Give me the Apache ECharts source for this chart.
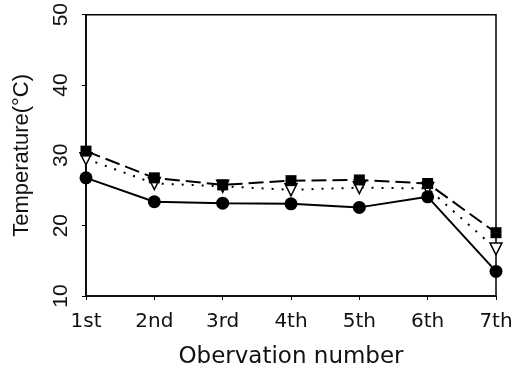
<!DOCTYPE html>
<html><head><meta charset="utf-8">
<script src="https://cdn.jsdelivr.net/npm/echarts@6/dist/echarts.min.js"></script>
<style>html,body{margin:0;padding:0;background:#fff}#c{width:529px;height:374px}</style>
</head><body><div id="c"></div>
<script>
var categories = ['1st','2nd','3rd','4th','5th','6th','7th'];
var circleSeries = [26.8, 23.4, 23.2, 23.1, 22.6, 24.1, 13.5];
var squareSeries = [30.6, 26.8, 25.8, 26.4, 26.5, 26.0, 19.0];
var triangleSeries = [29.5, 26.0, 25.6, 25.1, 25.4, 25.3, 16.7];
var yTicks = [10, 20, 30, 40, 50];

var chart = echarts.init(document.getElementById('c'));
var wide = 'DejaVu Sans, sans-serif';
var narrow = 'Liberation Sans, Arial, sans-serif';
chart.setOption({
  animation: false,
  grid: {left: 86, right: 33, top: 9, bottom: 76, show: true, borderColor: '#000', borderWidth: 1.5, backgroundColor: 'transparent'},
  xAxis: {
    type: 'category', data: categories, boundaryGap: false,
    name: 'Obervation number', nameLocation: 'middle', nameGap: 50,
    nameTextStyle: {fontFamily: wide, fontSize: 23, color: '#111'},
    axisLine: {lineStyle: {color: '#000', width: 1.5}},
    axisTick: {show: true, inside: false, length: 4, lineStyle: {color: '#000'}},
    axisLabel: {fontFamily: wide, fontSize: 20, color: '#111', margin: 16},
    splitLine: {show: false}
  },
  yAxis: {
    type: 'value', min: 10, max: 50, interval: 10,
    name: 'Temperature(°C)', nameLocation: 'middle', nameGap: 53, nameRotate: 90,
    nameTextStyle: {fontFamily: narrow, fontSize: 22, color: '#111'},
    axisLine: {show: true, lineStyle: {color: '#000', width: 1.5}},
    axisTick: {show: true, inside: false, length: 4, lineStyle: {color: '#000'}},
    axisLabel: {fontFamily: narrow, fontSize: 21, color: '#111', rotate: 90, margin: 14,
      formatter: function(v){ return yTicks.indexOf(v) >= 0 ? String(v) : ''; }},
    splitLine: {show: false}
  },
  series: [
    {type: 'line', data: squareSeries, symbol: 'rect', symbolSize: 11,
     lineStyle: {color: '#000', width: 2, type: [15, 6]},
     itemStyle: {color: '#000'}, z: 3},
    {type: 'line', data: triangleSeries, symbol: 'triangle', symbolRotate: 180, symbolSize: 12,
     lineStyle: {color: '#000', width: 2, type: [2, 8]},
     itemStyle: {color: '#fff', borderColor: '#000', borderWidth: 1.5}, z: 2},
    {type: 'line', data: circleSeries, symbol: 'circle', symbolSize: 13,
     lineStyle: {color: '#000', width: 2},
     itemStyle: {color: '#000'}, z: 4}
  ]
});
</script></body></html>
